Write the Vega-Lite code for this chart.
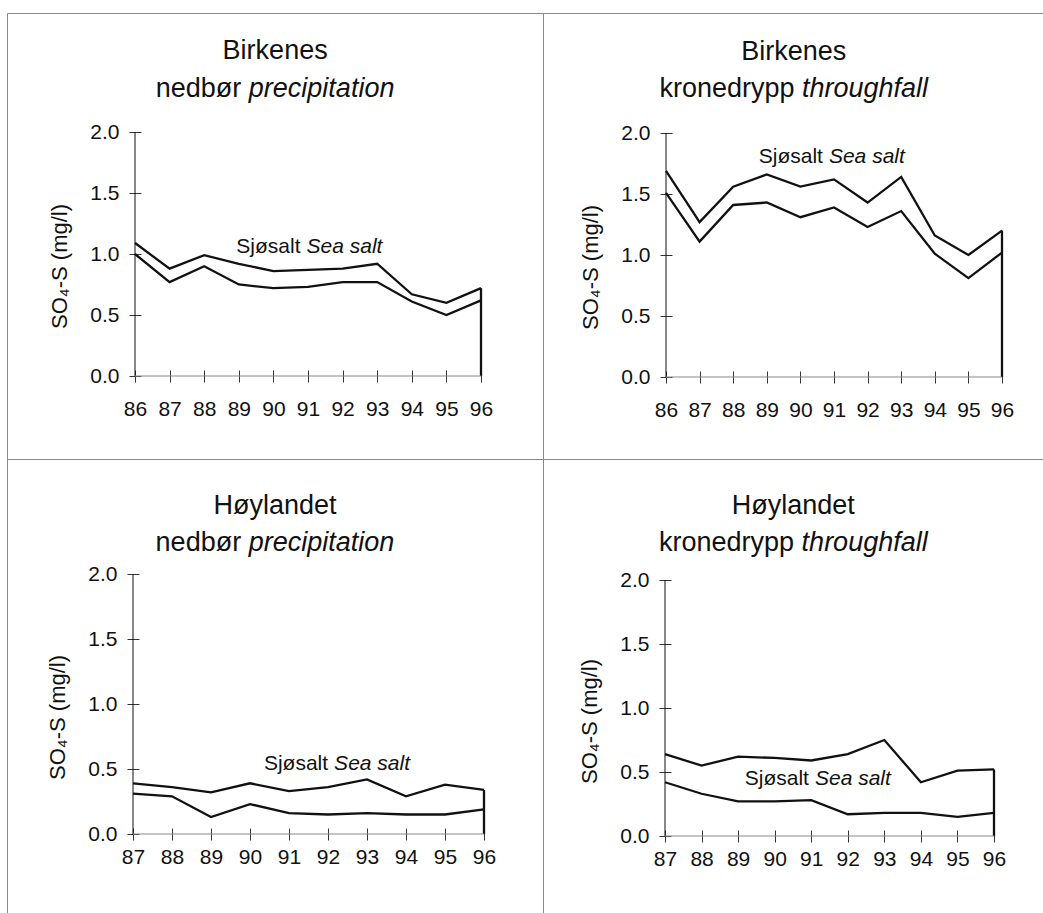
{
  "$schema": "https://vega.github.io/schema/vega-lite/v6.json",
  "padding": {"left": 6, "top": 12, "right": 0, "bottom": 0},
  "background": "white",
  "columns": 2,
  "spacing": 0,
  "bounds": "flush",
  "align": "each",
  "config": {
    "font": "Liberation Sans",
    "view": {"stroke": "#888", "strokeWidth": 1},
    "concat": {"spacing": 0},
    "axis": {"grid": false, "domain": false, "tickColor": "#333", "tickSize": 12, "labelFont": "Liberation Sans", "labelFontSize": 21, "labelColor": "#111", "titleFont": "Liberation Sans", "titleFontSize": 22, "titleFontWeight": "normal", "titleColor": "#111", "labelOverlap": false, "labelFlush": false},
    "text": {"font": "Liberation Sans", "color": "#111"}
  },
  "datasets": {
    "d": [
      {"panel": "BP", "year": 86, "total": 1.09, "excess": 1.00},
      {"panel": "BP", "year": 87, "total": 0.88, "excess": 0.77},
      {"panel": "BP", "year": 88, "total": 0.99, "excess": 0.90},
      {"panel": "BP", "year": 89, "total": 0.92, "excess": 0.75},
      {"panel": "BP", "year": 90, "total": 0.86, "excess": 0.72},
      {"panel": "BP", "year": 91, "total": 0.87, "excess": 0.73},
      {"panel": "BP", "year": 92, "total": 0.88, "excess": 0.77},
      {"panel": "BP", "year": 93, "total": 0.92, "excess": 0.77},
      {"panel": "BP", "year": 94, "total": 0.67, "excess": 0.61},
      {"panel": "BP", "year": 95, "total": 0.60, "excess": 0.50},
      {"panel": "BP", "year": 96, "total": 0.72, "excess": 0.62},
      {"panel": "BT", "year": 86, "total": 1.69, "excess": 1.51},
      {"panel": "BT", "year": 87, "total": 1.27, "excess": 1.11},
      {"panel": "BT", "year": 88, "total": 1.56, "excess": 1.41},
      {"panel": "BT", "year": 89, "total": 1.66, "excess": 1.43},
      {"panel": "BT", "year": 90, "total": 1.56, "excess": 1.31},
      {"panel": "BT", "year": 91, "total": 1.62, "excess": 1.39},
      {"panel": "BT", "year": 92, "total": 1.43, "excess": 1.23},
      {"panel": "BT", "year": 93, "total": 1.64, "excess": 1.36},
      {"panel": "BT", "year": 94, "total": 1.16, "excess": 1.01},
      {"panel": "BT", "year": 95, "total": 1.00, "excess": 0.81},
      {"panel": "BT", "year": 96, "total": 1.20, "excess": 1.02},
      {"panel": "HP", "year": 87, "total": 0.39, "excess": 0.31},
      {"panel": "HP", "year": 88, "total": 0.36, "excess": 0.29},
      {"panel": "HP", "year": 89, "total": 0.32, "excess": 0.13},
      {"panel": "HP", "year": 90, "total": 0.39, "excess": 0.23},
      {"panel": "HP", "year": 91, "total": 0.33, "excess": 0.16},
      {"panel": "HP", "year": 92, "total": 0.36, "excess": 0.15},
      {"panel": "HP", "year": 93, "total": 0.42, "excess": 0.16},
      {"panel": "HP", "year": 94, "total": 0.29, "excess": 0.15},
      {"panel": "HP", "year": 95, "total": 0.38, "excess": 0.15},
      {"panel": "HP", "year": 96, "total": 0.34, "excess": 0.19},
      {"panel": "HT", "year": 87, "total": 0.64, "excess": 0.42},
      {"panel": "HT", "year": 88, "total": 0.55, "excess": 0.33},
      {"panel": "HT", "year": 89, "total": 0.62, "excess": 0.27},
      {"panel": "HT", "year": 90, "total": 0.61, "excess": 0.27},
      {"panel": "HT", "year": 91, "total": 0.59, "excess": 0.28},
      {"panel": "HT", "year": 92, "total": 0.64, "excess": 0.17},
      {"panel": "HT", "year": 93, "total": 0.75, "excess": 0.18},
      {"panel": "HT", "year": 94, "total": 0.42, "excess": 0.18},
      {"panel": "HT", "year": 95, "total": 0.51, "excess": 0.15},
      {"panel": "HT", "year": 96, "total": 0.52, "excess": 0.18}
    ]
  },
  "concat": [
    {
      "width": 536, "height": 446,
      "layer": [
        {
          "data": {"name": "d"},
          "transform": [{"filter": "datum.panel === 'BP'"}, {"fold": ["total", "excess"], "as": ["series", "value"]}],
          "mark": {"type": "line", "color": "#111", "strokeWidth": 2.3},
          "encoding": {
            "x": {"field": "year", "type": "quantitative", "scale": {"domain": [86, 96], "range": [128, 474], "nice": false, "zero": false},
                  "axis": {"values": [86, 87, 88, 89, 90, 91, 92, 93, 94, 95, 96], "format": "d", "orient": "bottom", "offset": -89, "labelPadding": 16, "title": null}},
            "y": {"field": "value", "type": "quantitative", "scale": {"domain": [0, 2], "range": [363, 119], "nice": false, "zero": false},
                  "axis": {"values": [0, 0.5, 1, 1.5, 2], "format": ".1f", "orient": "left", "offset": -134, "labelPadding": 10, "title": "SO₄-S (mg/l)", "titlePadding": 18, "titleY": 253}},
            "detail": {"field": "series"}
          }
        },
        {
          "data": {"name": "d"},
          "transform": [{"filter": "datum.panel === 'BP' && datum.year === 96"}],
          "mark": {"type": "rule", "color": "#111", "strokeWidth": 2.3},
          "encoding": {"x": {"field": "year", "type": "quantitative"}, "y": {"field": "total", "type": "quantitative"}, "y2": {"datum": 0}}
        },
        {"data": {"values": [{}]}, "mark": {"type": "rule", "color": "#111", "strokeWidth": 1}, "encoding": {"x": {"datum": 86}, "y": {"datum": 0}, "y2": {"datum": 2}}},
        {"data": {"values": [{}]}, "mark": {"type": "rule", "color": "#888", "strokeWidth": 1}, "encoding": {"x": {"datum": 86}, "x2": {"datum": 96}, "y": {"datum": 0}}},
        {"data": {"values": [{}]}, "mark": {"type": "text", "fontSize": 21, "align": "right", "baseline": "alphabetic", "dx": -3}, "encoding": {"x": {"datum": 90.87}, "y": {"datum": 1.01}, "text": {"value": "Sjøsalt"}}},
        {"data": {"values": [{}]}, "mark": {"type": "text", "fontSize": 21, "fontStyle": "italic", "align": "left", "baseline": "alphabetic", "dx": 3}, "encoding": {"x": {"datum": 90.87}, "y": {"datum": 1.01}, "text": {"value": "Sea salt"}}},
        {"data": {"values": [{}]}, "mark": {"type": "text", "fontSize": 27, "align": "center", "baseline": "alphabetic"}, "encoding": {"x": {"datum": 90.05}, "y": {"datum": 2.595}, "text": {"value": "Birkenes"}}},
        {"data": {"values": [{}]}, "mark": {"type": "text", "fontSize": 27, "align": "right", "baseline": "alphabetic", "dx": -33.8}, "encoding": {"x": {"datum": 90.05}, "y": {"datum": 2.287}, "text": {"value": "nedbør"}}},
        {"data": {"values": [{}]}, "mark": {"type": "text", "fontSize": 27, "fontStyle": "italic", "align": "left", "baseline": "alphabetic", "dx": -26.3}, "encoding": {"x": {"datum": 90.05}, "y": {"datum": 2.287}, "text": {"value": "precipitation"}}}
      ]
    },
    {
      "width": 501, "height": 446,
      "layer": [
        {
          "data": {"name": "d"},
          "transform": [{"filter": "datum.panel === 'BT'"}, {"fold": ["total", "excess"], "as": ["series", "value"]}],
          "mark": {"type": "line", "color": "#111", "strokeWidth": 2.3},
          "encoding": {
            "x": {"field": "year", "type": "quantitative", "scale": {"domain": [86, 96], "range": [123, 459], "nice": false, "zero": false},
                  "axis": {"values": [86, 87, 88, 89, 90, 91, 92, 93, 94, 95, 96], "format": "d", "orient": "bottom", "offset": -88, "labelPadding": 16, "title": null}},
            "y": {"field": "value", "type": "quantitative", "scale": {"domain": [0, 2], "range": [364, 120], "nice": false, "zero": false},
                  "axis": {"values": [0, 0.5, 1, 1.5, 2], "format": ".1f", "orient": "left", "offset": -129, "labelPadding": 10, "title": "SO₄-S (mg/l)", "titlePadding": 18, "titleY": 254}},
            "detail": {"field": "series"}
          }
        },
        {
          "data": {"name": "d"},
          "transform": [{"filter": "datum.panel === 'BT' && datum.year === 96"}],
          "mark": {"type": "rule", "color": "#111", "strokeWidth": 2.3},
          "encoding": {"x": {"field": "year", "type": "quantitative"}, "y": {"field": "total", "type": "quantitative"}, "y2": {"datum": 0}}
        },
        {"data": {"values": [{}]}, "mark": {"type": "rule", "color": "#111", "strokeWidth": 1}, "encoding": {"x": {"datum": 86}, "y": {"datum": 0}, "y2": {"datum": 2}}},
        {"data": {"values": [{}]}, "mark": {"type": "rule", "color": "#888", "strokeWidth": 1}, "encoding": {"x": {"datum": 86}, "x2": {"datum": 96}, "y": {"datum": 0}}},
        {"data": {"values": [{}]}, "mark": {"type": "text", "fontSize": 21, "align": "right", "baseline": "alphabetic", "dx": -3}, "encoding": {"x": {"datum": 90.76}, "y": {"datum": 1.757}, "text": {"value": "Sjøsalt"}}},
        {"data": {"values": [{}]}, "mark": {"type": "text", "fontSize": 21, "fontStyle": "italic", "align": "left", "baseline": "alphabetic", "dx": 3}, "encoding": {"x": {"datum": 90.76}, "y": {"datum": 1.757}, "text": {"value": "Sea salt"}}},
        {"data": {"values": [{}]}, "mark": {"type": "text", "fontSize": 27, "align": "center", "baseline": "alphabetic"}, "encoding": {"x": {"datum": 89.8}, "y": {"datum": 2.6}, "text": {"value": "Birkenes"}}},
        {"data": {"values": [{}]}, "mark": {"type": "text", "fontSize": 27, "align": "right", "baseline": "alphabetic", "dx": 0.8}, "encoding": {"x": {"datum": 89.8}, "y": {"datum": 2.295}, "text": {"value": "kronedrypp"}}},
        {"data": {"values": [{}]}, "mark": {"type": "text", "fontSize": 27, "fontStyle": "italic", "align": "left", "baseline": "alphabetic", "dx": 8.3}, "encoding": {"x": {"datum": 89.8}, "y": {"datum": 2.295}, "text": {"value": "throughfall"}}}
      ]
    },
    {
      "width": 536, "height": 455,
      "layer": [
        {
          "data": {"name": "d"},
          "transform": [{"filter": "datum.panel === 'HP'"}, {"fold": ["total", "excess"], "as": ["series", "value"]}],
          "mark": {"type": "line", "color": "#111", "strokeWidth": 2.3},
          "encoding": {
            "x": {"field": "year", "type": "quantitative", "scale": {"domain": [87, 96], "range": [126, 477], "nice": false, "zero": false},
                  "axis": {"values": [87, 88, 89, 90, 91, 92, 93, 94, 95, 96], "format": "d", "orient": "bottom", "offset": -86, "labelPadding": 6, "title": null}},
            "y": {"field": "value", "type": "quantitative", "scale": {"domain": [0, 2], "range": [375, 115], "nice": false, "zero": false},
                  "axis": {"values": [0, 0.5, 1, 1.5, 2], "format": ".1f", "orient": "left", "offset": -132, "labelPadding": 10, "title": "SO₄-S (mg/l)", "titlePadding": 18, "titleY": 258}},
            "detail": {"field": "series"}
          }
        },
        {
          "data": {"name": "d"},
          "transform": [{"filter": "datum.panel === 'HP' && datum.year === 96"}],
          "mark": {"type": "rule", "color": "#111", "strokeWidth": 2.3},
          "encoding": {"x": {"field": "year", "type": "quantitative"}, "y": {"field": "total", "type": "quantitative"}, "y2": {"datum": 0}}
        },
        {"data": {"values": [{}]}, "mark": {"type": "rule", "color": "#111", "strokeWidth": 1}, "encoding": {"x": {"datum": 87}, "y": {"datum": 0}, "y2": {"datum": 2}}},
        {"data": {"values": [{}]}, "mark": {"type": "rule", "color": "#888", "strokeWidth": 1}, "encoding": {"x": {"datum": 87}, "x2": {"datum": 96}, "y": {"datum": 0}}},
        {"data": {"values": [{}]}, "mark": {"type": "text", "fontSize": 21, "align": "right", "baseline": "alphabetic", "dx": -3}, "encoding": {"x": {"datum": 92.08}, "y": {"datum": 0.495}, "text": {"value": "Sjøsalt"}}},
        {"data": {"values": [{}]}, "mark": {"type": "text", "fontSize": 21, "fontStyle": "italic", "align": "left", "baseline": "alphabetic", "dx": 3}, "encoding": {"x": {"datum": 92.08}, "y": {"datum": 0.495}, "text": {"value": "Sea salt"}}},
        {"data": {"values": [{}]}, "mark": {"type": "text", "fontSize": 27, "align": "center", "baseline": "alphabetic"}, "encoding": {"x": {"datum": 90.64}, "y": {"datum": 2.461}, "text": {"value": "Høylandet"}}},
        {"data": {"values": [{}]}, "mark": {"type": "text", "fontSize": 27, "align": "right", "baseline": "alphabetic", "dx": -33.8}, "encoding": {"x": {"datum": 90.64}, "y": {"datum": 2.177}, "text": {"value": "nedbør"}}},
        {"data": {"values": [{}]}, "mark": {"type": "text", "fontSize": 27, "fontStyle": "italic", "align": "left", "baseline": "alphabetic", "dx": -26.3}, "encoding": {"x": {"datum": 90.64}, "y": {"datum": 2.177}, "text": {"value": "precipitation"}}}
      ]
    },
    {
      "width": 501, "height": 455,
      "layer": [
        {
          "data": {"name": "d"},
          "transform": [{"filter": "datum.panel === 'HT'"}, {"fold": ["total", "excess"], "as": ["series", "value"]}],
          "mark": {"type": "line", "color": "#111", "strokeWidth": 2.3},
          "encoding": {
            "x": {"field": "year", "type": "quantitative", "scale": {"domain": [87, 96], "range": [122, 451], "nice": false, "zero": false},
                  "axis": {"values": [87, 88, 89, 90, 91, 92, 93, 94, 95, 96], "format": "d", "orient": "bottom", "offset": -84, "labelPadding": 6, "title": null}},
            "y": {"field": "value", "type": "quantitative", "scale": {"domain": [0, 2], "range": [377, 121], "nice": false, "zero": false},
                  "axis": {"values": [0, 0.5, 1, 1.5, 2], "format": ".1f", "orient": "left", "offset": -128, "labelPadding": 10, "title": "SO₄-S (mg/l)", "titlePadding": 18, "titleY": 262}},
            "detail": {"field": "series"}
          }
        },
        {
          "data": {"name": "d"},
          "transform": [{"filter": "datum.panel === 'HT' && datum.year === 96"}],
          "mark": {"type": "rule", "color": "#111", "strokeWidth": 2.3},
          "encoding": {"x": {"field": "year", "type": "quantitative"}, "y": {"field": "total", "type": "quantitative"}, "y2": {"datum": 0}}
        },
        {"data": {"values": [{}]}, "mark": {"type": "rule", "color": "#111", "strokeWidth": 1}, "encoding": {"x": {"datum": 87}, "y": {"datum": 0}, "y2": {"datum": 2}}},
        {"data": {"values": [{}]}, "mark": {"type": "rule", "color": "#888", "strokeWidth": 1}, "encoding": {"x": {"datum": 87}, "x2": {"datum": 96}, "y": {"datum": 0}}},
        {"data": {"values": [{}]}, "mark": {"type": "text", "fontSize": 21, "align": "right", "baseline": "alphabetic", "dx": -3}, "encoding": {"x": {"datum": 91.02}, "y": {"datum": 0.4}, "text": {"value": "Sjøsalt"}}},
        {"data": {"values": [{}]}, "mark": {"type": "text", "fontSize": 21, "fontStyle": "italic", "align": "left", "baseline": "alphabetic", "dx": 3}, "encoding": {"x": {"datum": 91.02}, "y": {"datum": 0.4}, "text": {"value": "Sea salt"}}},
        {"data": {"values": [{}]}, "mark": {"type": "text", "fontSize": 27, "align": "center", "baseline": "alphabetic"}, "encoding": {"x": {"datum": 90.51}, "y": {"datum": 2.515}, "text": {"value": "Høylandet"}}},
        {"data": {"values": [{}]}, "mark": {"type": "text", "fontSize": 27, "align": "right", "baseline": "alphabetic", "dx": 0.8}, "encoding": {"x": {"datum": 90.51}, "y": {"datum": 2.227}, "text": {"value": "kronedrypp"}}},
        {"data": {"values": [{}]}, "mark": {"type": "text", "fontSize": 27, "fontStyle": "italic", "align": "left", "baseline": "alphabetic", "dx": 8.3}, "encoding": {"x": {"datum": 90.51}, "y": {"datum": 2.227}, "text": {"value": "throughfall"}}}
      ]
    }
  ]
}
